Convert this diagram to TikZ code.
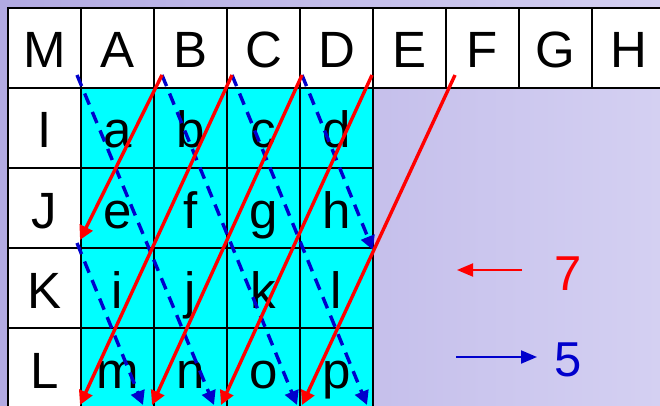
\documentclass[tikz,border=0pt]{standalone}
\usepackage{fontspec}
\setmainfont{Liberation Sans}
\usetikzlibrary{arrows.meta}
\definecolor{bgdark}{RGB}{178,170,226}
\definecolor{bglight}{RGB}{212,208,242}
\definecolor{cellcyan}{RGB}{0,255,255}
\definecolor{sevenred}{RGB}{255,0,0}
\definecolor{fiveblue}{RGB}{0,0,204}

\begin{document}
\begin{tikzpicture}[x=1pt,y=-1pt,
    cellbox/.style={draw=black, line width=1.6pt, minimum width=73pt, minimum height=80pt,
        inner sep=0pt, text height=40pt, text depth=0pt, font=\fontsize{51}{51}\selectfont},
    headbox/.style={cellbox, fill=white},
    databox/.style={cellbox, fill=cellcyan},
    sevenline/.style={draw=sevenred, line width=3.4pt, -{Triangle[length=14pt,width=14pt]}},
    fiveline/.style={draw=fiveblue, line width=3.4pt, dash pattern=on 12pt off 8pt,
        -{Triangle[length=14pt,width=14pt]}},
    legnum/.style={anchor=base, font=\fontsize{49}{49}\selectfont}]
        \shade[left color=bgdark, right color=bglight] (0,0) rectangle (660,406);
        \useasboundingbox (0,0) rectangle (660,406);

        % header row and row labels
        \foreach \name [count=\i from 0] in {M,A,B,C,D,E,F,G,H}
            \node[headbox] (h\name) at (44.5+73*\i, 48) {\name};
        \foreach \name [count=\j] in {I,J,K,L}
            \node[headbox] (r\name) at (44.5, 48+80*\j) {\name};

        % the cyan cells
        \foreach \name [count=\k from 0] in {a,b,c,d,e,f,g,h,i,j,k,l,m,n,o,p} {
            \pgfmathtruncatemacro\col{mod(\k,4)}
            \pgfmathtruncatemacro\row{div(\k,4)}
            \node[databox] (c\name) at (117.5+73*\col, 128+80*\row) {\name};
        }

        % ends of the steps
        \coordinate (p5a) at (77,75);   \coordinate (q5a) at (214,405);
        \coordinate (p5b) at (162,75);  \coordinate (q5b) at (297,405);
        \coordinate (p5c) at (232,75);  \coordinate (q5c) at (367,405);
        \coordinate (p5d) at (302,75);  \coordinate (q5d) at (373,250);
        \coordinate (p5e) at (77,243);  \coordinate (q5e) at (143,405);

        \coordinate (p7a) at (162,75);  \coordinate (q7a) at (80,240);
        \coordinate (p7b) at (232,75);  \coordinate (q7b) at (80,405);
        \coordinate (p7c) at (302,75);  \coordinate (q7c) at (152,405);
        \coordinate (p7d) at (372,75);  \coordinate (q7d) at (221,405);
        \coordinate (p7e) at (455,75);  \coordinate (q7e) at (302,405);

        \foreach \s in {a,b,c,d,e}
            \draw[fiveline] (p5\s) -- (q5\s);
        \foreach \s in {a,b,c,d,e}
            \draw[sevenline] (p7\s) -- (q7\s);

        % legend
        \node[legnum, text=sevenred] (seven) at (568,290) {7};
        \node[legnum, text=fiveblue] (five) at (568,376) {5};
        \coordinate (l7s) at (522,270); \coordinate (l7e) at (457,270);
        \coordinate (l5s) at (456,357); \coordinate (l5e) at (537,357);
        \draw[draw=sevenred, line width=2pt, -{Triangle[length=16pt,width=13pt]}] (l7s) -- (l7e);
        \draw[draw=fiveblue, line width=2pt, -{Triangle[length=16pt,width=13pt]}] (l5s) -- (l5e);
\end{tikzpicture}
\end{document}
